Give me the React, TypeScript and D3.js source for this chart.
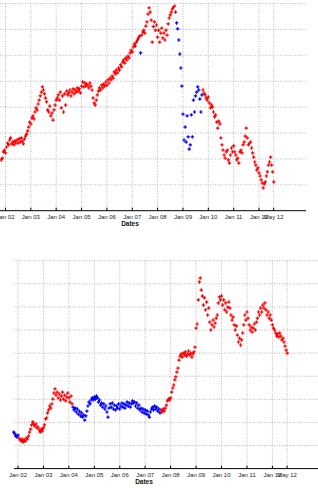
import React from 'react';
import * as d3 from 'd3';

// Tick dates (year, monthIndex, day) and their labels
const tickDateParts: [number, number, number][] = [
  [2002, 0, 1], [2003, 0, 1], [2004, 0, 1], [2005, 0, 1], [2006, 0, 1], [2007, 0, 1],
  [2008, 0, 1], [2009, 0, 1], [2010, 0, 1], [2011, 0, 1], [2012, 0, 1], [2012, 6, 30],
];
const tickLabels = ['Jan 02', 'Jan 03', 'Jan 04', 'Jan 05', 'Jan 06', 'Jan 07', 'Jan 08', 'Jan 09', 'Jan 10', 'Jan 11', 'Jan 12', 'May 12'];

// Semi-monthly samples starting 1 Nov 2001
const sampleStart: [number, number] = [2001, 10];

const topValues = [
  1.96, 2.03, 2.27, 2.34, 2.23, 2.46, 2.61, 2.54, 2.73, 2.81,
  2.58, 2.65, 2.54, 2.69, 2.61, 2.73, 2.61, 2.77, 2.65, 2.81,
  2.69, 2.58, 2.77, 2.88, 2.96, 3.08, 3.23, 3.42, 3.35, 3.58,
  3.66, 3.54, 3.81, 3.97, 3.89, 4.12, 4.27, 4.43, 4.58, 4.78,
  4.66, 4.51, 4.35, 4.20, 3.89, 3.81, 4.04, 3.66, 3.77, 3.50,
  3.89, 4.08, 4.27, 4.35, 4.47, 4.27, 4.58, 3.97, 4.43, 3.81,
  4.51, 4.08, 4.62, 4.47, 4.55, 4.66, 4.43, 4.58, 4.70, 4.51,
  4.66, 4.58, 4.74, 4.62, 4.70, 4.55, 4.81, 4.97, 4.78, 4.93,
  4.81, 4.89, 4.85, 4.74, 4.93, 4.81, 4.66, 4.35, 4.16, 4.08,
  4.27, 4.47, 4.62, 4.74, 4.66, 4.85, 4.74, 4.89, 4.81, 4.97,
  4.85, 5.05, 4.93, 5.12, 5.05, 5.20, 5.12, 5.36, 5.28, 5.43,
  5.32, 5.51, 5.43, 5.63, 5.55, 5.74, 5.82, 5.70, 5.90, 5.82,
  5.97, 5.90, 6.09, 6.20, 6.13, 6.32, 6.44, 6.36, 6.51, 6.59,
  6.67, 6.74, 6.09, 6.78, 6.90, 6.97, 6.86, 7.13, 7.29, 7.59,
  7.83, 7.67, 7.36, 6.51, 7.11, 7.29, 6.97, 7.17, 6.70, 6.97,
  6.51, 6.86, 7.05, 6.67, 6.86, 6.59, 6.97, 6.78, 7.21, 7.44,
  7.56, 7.67, 7.79, 7.86, 7.90, 7.67, 7.25, 7.02, 6.59, 6.05,
  5.51, 4.81, 3.73, 2.73, 3.23, 2.65, 3.66, 2.85, 2.38, 2.54,
  3.70, 2.85, 4.27, 3.81, 4.43, 4.58, 4.78, 4.66, 4.31, 3.81,
  4.47, 4.66, 4.54, 4.47, 4.35, 4.27, 4.39, 4.16, 3.97, 4.08,
  4.00, 3.81, 3.62, 3.70, 3.42, 3.19, 3.46, 3.35, 2.81, 2.54,
  2.34, 2.15, 2.03, 2.27, 2.34, 1.96, 1.84, 2.15, 2.42, 2.27,
  2.50, 2.27, 2.15, 1.96, 2.03, 1.84, 2.27, 2.34, 2.23, 2.54,
  2.65, 2.88, 3.19, 2.81, 2.54, 2.61, 2.65, 2.42, 2.23, 2.07,
  1.88, 1.76, 1.57, 1.65, 1.46, 1.34, 1.19, 1.07, 0.88, 1.03,
  1.11, 1.34, 1.50, 1.76, 1.88, 2.07, 1.76, 1.50, 1.11,
];
const topBlueSpans: [number, number][] = [[132, 132], [166, 190]];

const bottomValues = [
  1.58, 1.50, 1.41, 1.37, 1.45, 1.32, 1.24, 1.19, 1.28, 1.15,
  1.24, 1.19, 1.32, 1.28, 1.41, 1.58, 1.71, 1.89, 2.02, 1.93,
  1.84, 1.93, 1.76, 1.80, 1.67, 1.58, 1.71, 1.63, 1.76, 1.89,
  2.15, 2.19, 2.41, 2.54, 2.71, 2.62, 2.80, 3.01, 3.27, 3.45,
  3.18, 3.31, 3.06, 3.23, 2.97, 3.14, 3.31, 3.01, 3.18, 2.93,
  3.10, 3.27, 3.06, 2.88, 3.14, 2.80, 2.66, 2.54, 2.62, 2.45,
  2.58, 2.36, 2.49, 2.28, 2.41, 2.23, 2.32, 2.10, 2.28, 2.49,
  2.71, 2.88, 2.80, 2.97, 3.06, 2.97, 3.10, 3.01, 3.14, 3.06,
  2.88, 2.97, 2.75, 2.84, 2.66, 2.80, 2.58, 2.71, 2.45, 2.23,
  2.62, 2.80, 2.66, 2.84, 2.58, 2.75, 2.54, 2.71, 2.62, 2.80,
  2.58, 2.71, 2.84, 2.66, 2.80, 2.62, 2.75, 2.88, 2.71, 2.84,
  2.66, 2.80, 2.93, 2.84, 2.88, 2.71, 2.84, 2.62, 2.75, 2.54,
  2.62, 2.45, 2.58, 2.41, 2.54, 2.36, 2.49, 2.32, 2.23, 2.45,
  2.58, 2.66, 2.54, 2.71, 2.58, 2.66, 2.49, 2.58, 2.41, 2.54,
  2.45, 2.58, 2.49, 2.62, 2.75, 2.93, 3.01, 2.97, 3.06, 3.31,
  3.49, 3.62, 3.84, 3.97, 4.18, 4.35, 4.70, 4.87, 4.96, 4.83,
  5.00, 4.92, 5.05, 4.87, 4.96, 5.09, 4.92, 5.00, 4.83, 4.96,
  5.05, 5.26, 6.08, 6.26, 7.30, 8.08, 8.25, 7.73, 7.47, 7.08,
  7.39, 6.87, 7.21, 6.65, 6.95, 6.34, 6.00, 6.22, 6.43, 6.13,
  6.30, 6.51, 6.65, 7.17, 7.43, 7.30, 7.47, 7.08, 7.30, 6.87,
  7.17, 6.78, 6.99, 7.21, 6.95, 6.65, 6.43, 6.56, 6.22, 6.00,
  6.17, 5.78, 5.48, 5.65, 5.35, 5.57, 5.87, 6.22, 6.65, 6.43,
  6.78, 6.51, 6.22, 6.00, 6.13, 5.91, 6.08, 6.26, 6.00, 6.34,
  6.51, 6.78, 6.65, 6.95, 6.78, 7.08, 6.95, 7.17, 6.87, 6.65,
  6.78, 6.51, 6.65, 6.43, 6.22, 6.08, 6.00, 5.87, 5.74, 5.83,
  5.70, 5.87, 5.74, 5.57, 5.65, 5.48, 5.30, 5.13, 5.00,
];
const bottomBlueSpans: [number, number][] = [[0, 4], [56, 138]];

const topGridValues = [1, 2, 3, 4, 5, 6, 7, 8];
const bottomGridValues = [1, 2, 3, 4, 5, 6, 7, 8, 9];

const RED = '#ff0000';
const BLUE = '#0000ff';
const FONT = '"Liberation Sans", Arial, Helvetica, sans-serif';

const tickDates = tickDateParts.map(([y, m, d]) => new Date(y, m, d));
const sampleDate = (i: number) =>
  new Date(sampleStart[0], sampleStart[1] + Math.floor(i / 2), i % 2 === 0 ? 1 : 16);

type PanelProps = {
  values: number[];
  blueSpans: [number, number][];
  gridValues: number[];
  yMax: number;
  left: number;
  right: number;
  top: number;
  bottom: number;
  anchorX: [number, number];
  labelX: number;
};

function Panel({ values, blueSpans, gridValues, yMax, left, right, top, bottom, anchorX, labelX }: PanelProps) {
  const x = d3.scaleTime().domain([new Date(2002, 0, 1), new Date(2012, 0, 1)]).range(anchorX);
  const y = d3.scaleLinear().domain([0, yMax]).range([bottom, top]);
  const isBlue = (i: number) => blueSpans.some(([a, b]) => i >= a && i <= b);
  const arm = 1.7;
  let redPath = '';
  let bluePath = '';
  values.forEach((v, i) => {
    const px = x(sampleDate(i));
    const py = y(v);
    const seg = `M${px - arm},${py}h${2 * arm}M${px},${py - arm}v${2 * arm}`;
    if (isBlue(i)) bluePath += seg;
    else redPath += seg;
  });
  return (
    <g>
      {gridValues.map((g) => (
        <line key={'h' + g} x1={left} x2={right} y1={y(g)} y2={y(g)} stroke="#b8b8b8" strokeWidth={1} strokeDasharray="1 1.5" />
      ))}
      {tickDates.map((d, k) => (
        <line key={'v' + k} x1={x(d)} x2={x(d)} y1={top} y2={bottom} stroke="#b8b8b8" strokeWidth={1} strokeDasharray="1 1.5" />
      ))}
      <path d={redPath} stroke={RED} strokeWidth={1.2} fill="none" />
      <path d={bluePath} stroke={BLUE} strokeWidth={1.2} fill="none" />
      <line x1={left} x2={right} y1={bottom} y2={bottom} stroke="#000" strokeWidth={1} />
      {tickDates.map((d, k) => (
        <line key={'t' + k} x1={x(d)} x2={x(d)} y1={bottom} y2={bottom - 3} stroke="#000" strokeWidth={1} />
      ))}
      {tickDates.map((d, k) => (
        <text key={'l' + k} x={x(d)} y={bottom + 8.5} fontSize={6} fontFamily={FONT} textAnchor="middle" fill="#222">
          {tickLabels[k]}
        </text>
      ))}
      <text x={labelX} y={bottom + 15} fontSize={6.5} fontWeight="bold" fontFamily={FONT} textAnchor="middle" fill="#111">
        Dates
      </text>
    </g>
  );
}

export default function App() {
  return (
    <svg width={318} height={488} style={{ position: 'absolute', left: 0, top: 0, background: '#fff' }}>
      <Panel values={topValues} blueSpans={topBlueSpans} gridValues={topGridValues} yMax={8}
        left={0} right={306} top={3.5} bottom={210.7} anchorX={[5.5, 259]} labelX={130} />
      <Panel values={bottomValues} blueSpans={bottomBlueSpans} gridValues={bottomGridValues} yMax={9}
        left={14} right={318} top={260.7} bottom={468.6} anchorX={[18, 272.4]} labelX={144} />
    </svg>
  );
}
